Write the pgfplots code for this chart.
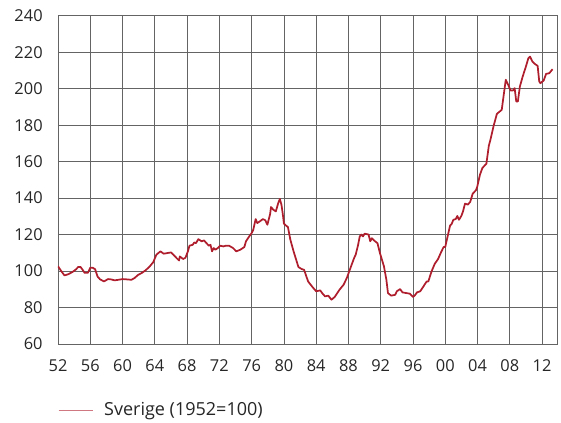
\documentclass[border=0pt]{standalone}
\usepackage{fontspec}
\setmainfont{Open Sans}
\usepackage{pgfplots}
\pgfplotsset{compat=1.18}
\definecolor{lred}{RGB}{175,30,45}
\definecolor{gridc}{RGB}{100,100,100}
\begin{document}
\begin{tikzpicture}
\begin{axis}[
  at={(0,0)}, anchor=south west,
  scale only axis, width=374.25pt, height=246.2pt,
  xmin=1952, xmax=2013.85, ymin=60, ymax=240,
  xtick={1952,1956,...,2012},
  xticklabels={52,56,60,64,68,72,76,80,84,88,92,96,00,04,08,12},
  ytick={60,80,...,240},
  grid=major,
  major grid style={gridc, line width=0.5pt},
  axis line style={gridc, line width=0.5pt},
  major tick length=0pt,
  tick style={draw=none},
  /pgf/number format/assume math mode=true,
  ticklabel style={font=\fontsize{12.3}{14}\selectfont, text=black!85},
  yticklabel style={xshift=-8pt},
  xticklabel style={yshift=-8pt},
  legend style={at={(axis description cs:0,-0.201)}, anchor=west, draw=none, inner sep=0pt,
    font=\fontsize{13.5}{15}\selectfont, text=black!85},
  legend cell align=left,
  legend image code/.code={\draw[#1, line width=0.6pt, draw=lred!60] (0pt,0pt) -- (25.5pt,0pt);\path (31.5pt,0pt);},
]
\addplot[lred, line width=1.3pt, line join=round] coordinates {
(1952.0,102.6) (1952.4,100) (1952.8,97.6) (1953.3,98.3) (1953.8,99.5) (1954.2,100.8)
(1954.5,102.2) (1954.8,102.2) (1955.0,101.0) (1955.3,99.0) (1955.7,99.0) (1956.0,101.8)
(1956.3,101.8) (1956.6,101.0) (1956.9,97.0) (1957.2,95.5) (1957.7,94.3) (1958.2,95.6)
(1958.6,95.4) (1959.0,94.9) (1959.5,95.2) (1960.0,95.6) (1960.6,95.4) (1961.1,95.2)
(1961.5,96.2) (1961.9,97.8) (1962.4,99.0) (1962.8,100.2) (1963.3,102.2) (1963.8,104.8)
(1964.2,109.0) (1964.7,110.8) (1965.1,109.5) (1965.6,109.9) (1966.0,110.2) (1966.3,109.0)
(1966.7,107.1) (1967.0,105.8) (1967.1,108.0) (1967.5,106.6) (1967.8,107.3) (1968.1,110.8)
(1968.3,113.9) (1968.7,114.4) (1968.9,115.7) (1969.1,115.3) (1969.4,117.5) (1969.8,116.3)
(1970.1,116.8) (1970.4,115.3) (1970.7,113.9) (1970.9,114.4) (1971.1,110.8) (1971.3,112.6)
(1971.5,111.7) (1971.8,112.6) (1972.1,113.9) (1972.5,113.5) (1972.8,113.9) (1973.2,113.9)
(1973.7,112.6) (1974.1,110.8) (1974.6,111.7) (1975.1,113.2) (1975.3,116.3) (1975.7,119.0)
(1976.0,120.8) (1976.2,122.6) (1976.5,128.5) (1976.7,126.3) (1977.0,127.2) (1977.4,128.5)
(1977.7,127.8) (1977.95,125.4) (1978.3,131.4) (1978.4,135.1) (1978.7,133.6) (1979.0,132.7)
(1979.3,137.3) (1979.5,139.5) (1979.7,136.3) (1979.9,130.0) (1980.0,126.0) (1980.3,124.8)
(1980.5,124.1) (1980.8,117.2) (1981.2,110.8) (1981.8,102.2) (1982.2,101.1) (1982.5,100.7)
(1983.0,94.3) (1983.55,91.2) (1984.0,88.9) (1984.5,89.4) (1984.8,87.6) (1985.1,86.1)
(1985.5,86.5) (1985.9,84.3) (1986.3,85.8) (1986.9,89.8) (1987.4,92.5) (1987.8,96.2)
(1988.4,103.5) (1988.7,107.1) (1988.9,109.0) (1989.2,114.4) (1989.4,119.0) (1989.6,120.0)
(1989.8,119.0) (1990.0,120.5) (1990.5,120.0) (1990.7,116.3) (1990.9,118.0) (1991.3,116.3)
(1991.6,115.3) (1991.9,109.9) (1992.4,102.6) (1992.7,95.3) (1992.9,87.9) (1993.3,86.5)
(1993.8,87.0) (1994.0,88.9) (1994.4,90.1) (1994.7,88.3) (1995.2,87.9) (1995.6,87.6)
(1996.0,85.8) (1996.2,86.5) (1996.5,88.3) (1996.9,88.9) (1997.3,91.6) (1997.7,94.3)
(1997.9,94.3) (1998.3,99.8) (1998.7,104.0) (1999.1,106.5) (1999.5,110.5) (1999.8,113.2)
(2000.0,113.2) (2000.2,117.2) (2000.6,125.0) (2000.8,125.9) (2001.0,128.1) (2001.3,128.5)
(2001.5,130.2) (2001.7,128.1) (2002.0,130.3) (2002.2,132.7) (2002.45,137.0) (2002.8,136.4)
(2003.1,138.0) (2003.4,142.4) (2003.8,144.3) (2003.95,146.0) (2004.3,152.8) (2004.6,156.5)
(2005.1,158.9) (2005.4,168.7) (2005.6,172.0) (2006.0,179.7) (2006.4,186.2) (2007.0,188.4)
(2007.5,204.9) (2007.8,202.1) (2008.1,199.0) (2008.4,199.0) (2008.6,200.3) (2008.8,193.0)
(2009.0,193.0) (2009.25,201.2) (2009.6,206.7) (2010.0,212.2) (2010.3,216.7) (2010.5,217.6)
(2010.8,214.9) (2011.1,213.6) (2011.45,212.5) (2011.65,203.9) (2011.8,203.0) (2012.2,204.5)
(2012.5,208.1) (2012.9,208.5) (2013.3,210.7)
};
\addlegendentry{Sverige (1952=100)}
\end{axis}
\useasboundingbox (-43.5pt,-59.25pt) rectangle (377.25pt,258pt);
\end{tikzpicture}
\end{document}
